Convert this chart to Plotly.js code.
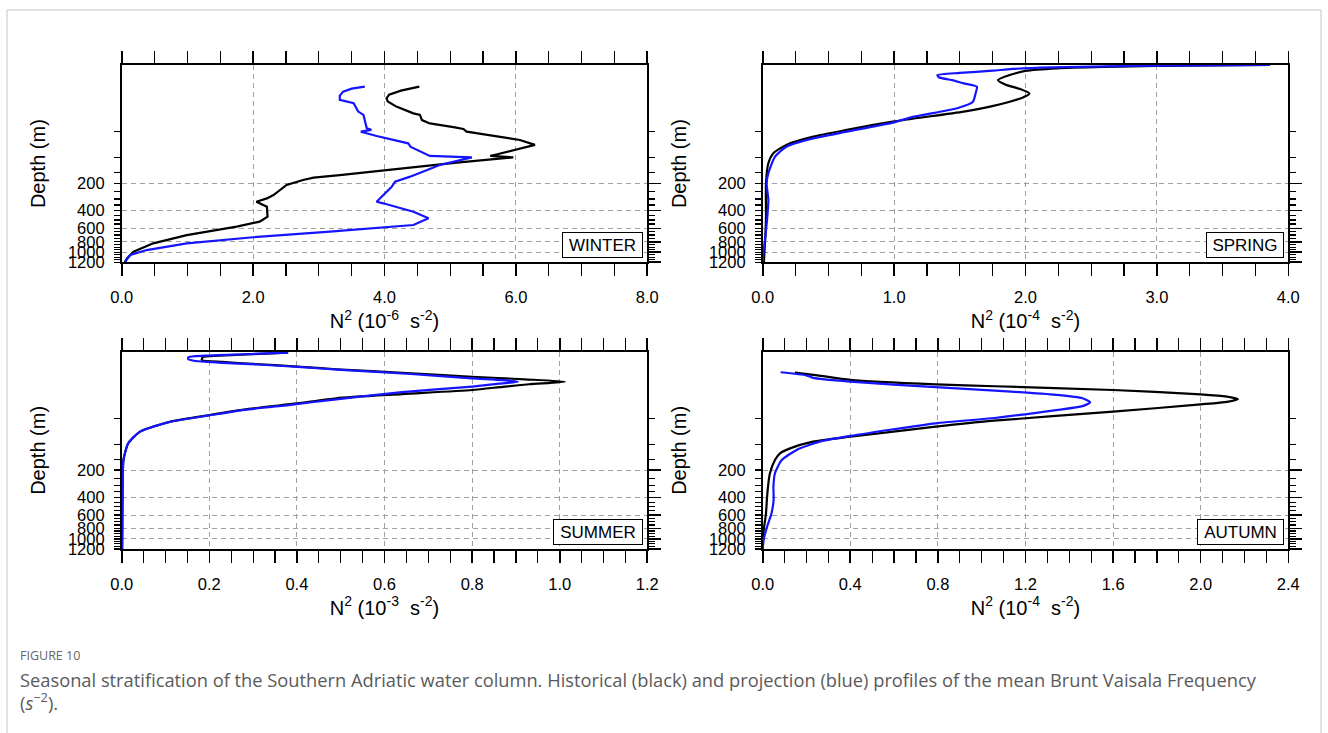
<!DOCTYPE html>
<html><head><meta charset="utf-8">
<script src="https://cdn.plot.ly/plotly-3.0.1.min.js"></script>
<style>html,body{margin:0;padding:0;background:#fff}#chart{width:1328px;height:733px}</style>
</head><body><div id="chart"></div>
<script>
// Vertical axis: model level position (0 = surface level, 100 = 1200 m level)
const depthTickDepth = [50,100,150,200,250,300,350,400,450,500,550,600,650,700,750,800,850,900,950,1000,1050,1100,1150,1200];
const depthTickLevel = [33.8,47.0,54.6,60.0,64.2,67.9,71.0,73.8,76.4,78.6,80.6,82.8,84.5,86.2,87.8,89.6,90.9,92.3,93.6,94.9,96.2,97.4,98.7,100];
const depthLabelEvery = 200;

// WINTER (10^-6 s^-2)
const winterHistLev = [11.0,13.0,15.0,16.9,18.5,21.1,24.5,25.3,27.9,29.6,31.5,32.4,33.8,36.0,38.0,40.5,46.1,46.8,49.5,55.8,57.1,58.3,60.8,65.9,67.6,69.3,71.8,76.9,79.4,81.9,86.2,90.4,94.6,98.0,100];
const winterHistN2  = [4.53,4.25,4.07,4.03,4.05,4.18,4.44,4.54,4.57,4.69,5.05,5.20,5.25,5.71,6.06,6.29,5.61,5.96,5.10,3.32,2.92,2.76,2.51,2.31,2.21,2.05,2.21,2.22,2.10,1.75,0.99,0.48,0.18,0.08,0.05];
const winterProjLev = [11.0,12.0,13.5,15.5,17.7,19.4,23.6,25.3,32.1,32.9,33.8,36.0,39.7,41.5,46.1,46.5,46.8,50.7,56.6,59.1,61.7,65.0,69.3,70.1,74.4,77.7,81.1,84.5,87.3,90.4,93.8,96.3,99.7];
const winterProjN2  = [3.70,3.50,3.37,3.32,3.32,3.53,3.60,3.68,3.73,3.80,3.64,3.88,4.36,4.40,4.69,5.12,5.33,4.84,4.39,4.16,4.11,4.01,3.88,3.98,4.44,4.67,4.44,3.17,2.00,0.99,0.38,0.13,0.05];

// SPRING (10^-4 s^-2)
const springHistLev = [0,0.5,1.0,1.7,3.0,5.1,7.6,10.0,12.2,14.4,16.5,18.6,21.1,23.6,28.7,32.9,36.3,40.5,44.8,49.8,60,77,87,99,100];
const springHistN2  = [3.86,3.0,2.6,2.24,2.0,1.88,1.79,1.85,1.96,2.03,1.98,1.88,1.73,1.53,0.99,0.64,0.385,0.18,0.08,0.043,0.025,0.025,0.02,0.01,0.01];
const springProjLev = [0,0.5,1.2,2.0,2.9,4.0,5.1,6.2,7.8,9.3,11.0,14.4,18.6,21.9,26.2,29.2,33.8,37.2,41.4,46.5,54.9,60,68.4,77,87,97,100];
const springProjN2  = [3.86,2.8,2.2,1.9,1.75,1.5,1.33,1.34,1.45,1.53,1.63,1.62,1.60,1.48,1.15,0.99,0.64,0.385,0.18,0.094,0.043,0.03,0.043,0.035,0.02,0.003,0.0];

// SUMMER (10^-3 s^-2)
const summerHistLev = [0.5,1.2,2.0,2.8,4.2,5.2,6.2,7.5,8.9,10.8,12.7,14.0,15.2,16.5,17.8,19.4,21.5,23.6,26.2,29.0,32.1,35.5,40.5,46.4,54.9,70,100];
const summerHistN2  = [0.38,0.30,0.22,0.185,0.183,0.23,0.30,0.40,0.49,0.65,0.80,0.92,1.012,0.93,0.87,0.80,0.64,0.49,0.40,0.29,0.20,0.11,0.042,0.015,0.004,0.002,0.001];
const summerProjLev = [0.5,1.3,2.0,2.8,3.8,4.6,5.5,6.5,7.8,9.2,11.3,13.5,14.4,15.2,16.2,17.7,20.5,24.5,26.8,29.5,32.3,35.6,40.5,46.4,54.9,70,100];
const summerProjN2  = [0.38,0.28,0.19,0.152,0.152,0.165,0.22,0.31,0.41,0.50,0.66,0.80,0.87,0.905,0.86,0.80,0.64,0.475,0.39,0.28,0.20,0.11,0.042,0.015,0.004,0.002,0.001];

// AUTUMN (10^-4 s^-2)
const autumnHistLev = [10.6,12.0,14.3,16.6,17.5,19.4,21.6,22.8,24.1,25.4,26.7,30.4,35.1,38.0,43.1,45.6,49.0,51.5,54.9,61.6,66.7,73.6,82,90,95,100];
const autumnHistN2  = [0.147,0.25,0.40,0.79,1.06,1.60,2.0,2.12,2.17,2.12,2.0,1.60,1.04,0.79,0.40,0.23,0.125,0.079,0.056,0.033,0.026,0.02,0.015,0.005,0.0,0.0];
const autumnProjLev = [10.4,12.0,13.3,15.2,18.0,19.7,21.9,23.6,25.6,27.6,29.6,33.6,36.3,42.7,45.6,49.8,54.9,61.6,68.4,75,82,88.7,95,100];
const autumnProjN2  = [0.082,0.20,0.23,0.40,0.79,1.06,1.34,1.46,1.495,1.46,1.34,1.06,0.79,0.40,0.26,0.155,0.087,0.056,0.049,0.05,0.04,0.02,0.005,0.0];

const seasonNames = ['WINTER','SPRING','SUMMER','AUTUMN'];
const unitExponents = ['-6','-4','-3','-4'];
const xMax = [8, 4, 1.2, 2.4];
const xMajor = [2, 1, 0.2, 0.4];
const xMinor = [0.5, 0.25, 0.05, 0.1];

const profiles = [
  [winterHistLev, winterHistN2, winterProjLev, winterProjN2],
  [springHistLev, springHistN2, springProjLev, springProjN2],
  [summerHistLev, summerHistN2, summerProjLev, summerProjN2],
  [autumnHistLev, autumnHistN2, autumnProjLev, autumnProjN2]
];

const W = 1328, H = 733;
const colDom = [[121.7/W, 647.3/W], [762.7/W, 1288.3/W]];
const rowDom = [[1-262.3/H, 1-65/H], [1-549/H, 1-351.7/H]];
const FONT = 'Liberation Sans, Arial, Helvetica, sans-serif';
const CAPFONT = 'Open Sans, Noto Sans, sans-serif';
const gridStyle = {gridcolor:'#a0a0a0', gridwidth:1, griddash:'5px,4px'};

const majorLev = [], majorTxt = [], minorLev = [];
depthTickDepth.forEach((d,i)=>{
  if (d % depthLabelEvery === 0) { majorLev.push(depthTickLevel[i]); majorTxt.push(String(d)); }
  else minorLev.push(depthTickLevel[i]);
});

const traces = [];
const layout = {
  width: W, height: H, margin:{l:0,r:0,t:0,b:0},
  paper_bgcolor:'#fff', plot_bgcolor:'rgba(0,0,0,0)', showlegend:false,
  font:{family:FONT, color:'#000'},
  annotations:[], shapes:[]
};

for (let i=0;i<4;i++){
  const n = i+1, sx = i===0?'':String(n), ov = String(n+4);
  const col = i%2, row = Math.floor(i/2);
  const smooth = i===0 ? 'linear' : 'spline';
  const p = profiles[i];
  traces.push({type:'scatter', mode:'lines', x:p[1], y:p[0], xaxis:'x'+sx, yaxis:'y'+sx,
    line:{color:'#000', width:2.2, shape:smooth, smoothing:0.6}, name:'Historical', hoverinfo:'skip'});
  traces.push({type:'scatter', mode:'lines', x:p[3], y:p[2], xaxis:'x'+sx, yaxis:'y'+sx,
    line:{color:'#1414ff', width:2.2, shape:smooth, smoothing:0.6}, name:'Projection', hoverinfo:'skip'});
  traces.push({type:'scatter', mode:'lines', x:[], y:[], xaxis:'x'+sx, yaxis:'y'+ov, hoverinfo:'skip', showlegend:false});

  layout['xaxis'+sx] = Object.assign({
    domain: colDom[col], anchor:'y'+sx, range:[0, xMax[i]],
    tickmode:'linear', tick0:0, dtick:xMajor[i], tickformat:'.1f',
    ticks:'outside', ticklen:12, tickwidth:1.6, tickcolor:'#000',
    minor:{tickmode:'linear', tick0:0, dtick:xMinor[i], ticks:'outside', ticklen:6, tickwidth:1.2, tickcolor:'#000', showgrid:false},
    showline:true, linewidth:1.8, linecolor:'#000', mirror:'allticks',
    showgrid:true, zeroline:false, fixedrange:true,
    tickfont:{family:FONT, size:16.5, color:'#000'}, ticklabelstandoff:7,
    title:{text:'N<sup>2</sup> (10<sup>'+unitExponents[i]+'</sup>  s<sup>-2</sup>)', font:{family:FONT, size:20, color:'#000'}, standoff:9}
  }, gridStyle);

  layout['yaxis'+sx] = {
    domain: rowDom[row], anchor:'x'+sx, range:[100,0],
    tickmode:'array', tickvals:majorLev, ticktext:majorTxt,
    ticks:'outside', ticklen:6, tickwidth:1.4, tickcolor:'#000',
    minor:{tickmode:'array', tickvals:minorLev, ticks:'outside', ticklen:6, tickwidth:1.2, tickcolor:'#000', showgrid:false},
    showline:true, linewidth:1.8, linecolor:'#000', mirror:false,
    showgrid:false, zeroline:false, fixedrange:true,
    tickfont:{family:FONT, size:16.5, color:'#000'}, ticklabelstandoff:6,
    title:{text:'Depth (m)', font:{family:FONT, size:20, color:'#000'}, standoff:17}
  };

  layout['yaxis'+ov] = Object.assign({
    overlaying:'y'+sx, anchor:'x'+sx, side:'right', range:[100,0],
    tickmode:'array', tickvals:majorLev, showticklabels:false,
    ticks:'outside', ticklen:12, tickwidth:1.6, tickcolor:'#000',
    minor:{tickmode:'array', tickvals:minorLev, ticks:'outside', ticklen:6, tickwidth:1.2, tickcolor:'#000', showgrid:false},
    showline:true, linewidth:1.8, linecolor:'#000',
    showgrid:true, zeroline:false, fixedrange:true
  }, gridStyle);

  layout.annotations.push({
    xref:'x'+sx+' domain', yref:'y'+sx+' domain', x:0.991, y:0.02,
    xanchor:'right', yanchor:'bottom', showarrow:false,
    text:seasonNames[i], font:{family:FONT, size:17, color:'#000'},
    bgcolor:'#fff', bordercolor:'#000', borderwidth:1, borderpad:0,
    width: [79,76,88,85][i], height:24, align:'center', valign:'middle'
  });
}

// Caption
layout.annotations.push({xref:'paper', yref:'paper', x:18/W, y:1-655/H, xanchor:'left', yanchor:'middle', showarrow:false,
  text:'FIGURE 10', font:{family:CAPFONT, size:12.5, color:'#666'}});
layout.annotations.push({xref:'paper', yref:'paper', x:18/W, y:1-679/H, xanchor:'left', yanchor:'middle', showarrow:false,
  text:'Seasonal stratification of the Southern Adriatic water column. Historical (black) and projection (blue) profiles of the mean Brunt Vaisala Frequency',
  font:{family:CAPFONT, size:18.3, color:'#5a5a5a'}});
layout.annotations.push({xref:'paper', yref:'paper', x:18/W, y:1-701/H, xanchor:'left', yanchor:'middle', showarrow:false,
  text:'(<i>s</i><sup>−2</sup>).', font:{family:CAPFONT, size:18.3, color:'#5a5a5a'}});

// Figure frame
layout.shapes.push({type:'rect', xref:'paper', yref:'paper', x0:7/W, x1:1321/W, y0:-0.05, y1:1-10/H,
  line:{color:'#c4c4c4', width:1}, fillcolor:'rgba(0,0,0,0)', layer:'below'});

Plotly.newPlot('chart', traces, layout, {staticPlot:true, displayModeBar:false});
</script></body></html>
